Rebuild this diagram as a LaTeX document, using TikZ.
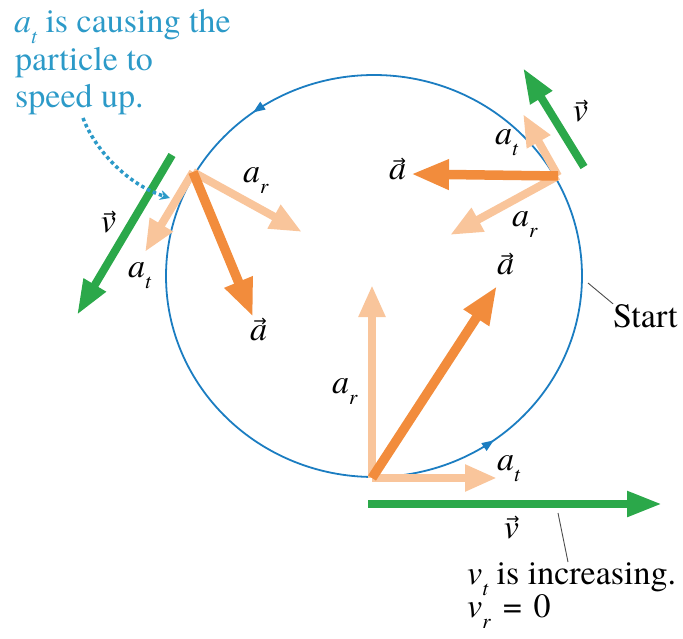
\documentclass[tikz,border=0pt]{standalone}
\usepackage{fontspec}
\setmainfont{texgyretermes}[Extension=.otf, UprightFont=*-regular, ItalicFont=*-italic, BoldFont=*-bold, BoldItalicFont=*-bolditalic]
\newfontfamily\symf{DejaVu Sans}
\usetikzlibrary{arrows.meta,decorations.markings}
\definecolor{vgreen}{HTML}{2BA84A}
\definecolor{aorange}{HTML}{F28C3C}
\definecolor{alight}{HTML}{F9C59B}
\definecolor{cblue}{HTML}{1B7DC1}
\definecolor{tblue}{HTML}{2C9AC8}
\newcommand\vecl[1]{\leavevmode\vbox{\offinterlineskip\halign{\hfil##\hfil\cr{\kern3pt\fontsize{16}{16}\selectfont\symf →}\cr\noalign{\kern-1pt}{\itshape #1}\cr}}}
\newcommand\sbs[1]{\raisebox{-11pt}{\fontsize{21}{21}\selectfont\itshape #1}}
\tikzset{
  lvec/.style={alight, line width=8pt, -{Triangle[length=32pt,width=25pt]}},
  ovec/.style={aorange, line width=9.5pt, -{Triangle[length=38pt,width=28pt]}},
  gvec/.style={vgreen, line width=8pt, -{Triangle[length=35pt,width=24pt]}},
  lbl/.style={anchor=base west, inner sep=0pt},
  lead/.style={draw=black!70, line width=0.9pt},
  circ/.style={draw=cblue, line width=1.8pt, decoration={markings,
     mark=at position 0.35 with {\arrow{Triangle[length=12pt,width=9pt]}},
     mark=at position 0.849 with {\arrow{Triangle[length=12pt,width=9pt]}}},
     postaction={decorate}},
  dotarr/.style={tblue, line width=3.5pt, dash pattern=on 3.5pt off 3pt, -{Stealth[length=10pt,width=10pt]}}
}
\begin{document}
\begin{tikzpicture}[x=1pt,y=-1pt,font=\fontsize{34}{40}\selectfont]
\useasboundingbox (0,0) rectangle (683,639);
% circle
\draw[circ] (582,276) arc[start angle=360, end angle=0, x radius=208, y radius=201];
% Start marker
\node[lbl] (start) at (613,327) {Start};
\coordinate (s1) at (588,283);
\draw[lead] (s1) -- (start.north west);
% points
\coordinate (P) at (372,478);
\coordinate (Q) at (558,176);
\coordinate (R) at (193,172);
% tips
\coordinate (PaR) at (372,285);
\coordinate (PaT) at (497,478);
\coordinate (Pa) at (497,286);
\coordinate (QaT) at (523,114);
\coordinate (QaR) at (450,235);
\coordinate (Qa) at (411,174);
\coordinate (RaT) at (145,252);
\coordinate (RaR) at (302,232);
\coordinate (Ra) at (253,317);
% green
\coordinate (Pv0) at (368,504); \coordinate (Pv1) at (662,504);
\coordinate (Qv0) at (584,167); \coordinate (Qv1) at (523,68);
\coordinate (Rv0) at (172,155); \coordinate (Rv1) at (77,315);
% light components
\draw[lvec] (P) -- (PaR);
\draw[lvec] (P) -- (PaT);
\draw[lvec] (Q) -- (QaT);
\draw[lvec] (Q) -- (QaR);
\draw[lvec] (R) -- (RaT);
\draw[lvec] (R) -- (RaR);
% total acceleration
\draw[ovec] (P) -- (Pa);
\draw[ovec] (Q) -- (Qa);
\draw[ovec] (R) -- (Ra);
% velocities
\draw[gvec] (Pv0) -- (Pv1);
\draw[gvec] (Qv0) -- (Qv1);
\draw[gvec] (Rv0) -- (Rv1);
% labels bottom
\node[lbl] (aP) at (497,275) {\vecl{a}};
\node[lbl] (arP) at (332,393) {\itshape a\sbs{r}};
\node[lbl] (atP) at (497,470) {\itshape a\sbs{t}};
\node[lbl] (vP) at (503,538) {\vecl{v}};
% labels top right
\node[lbl] (aQ) at (389,180) {\vecl{a}};
\node[lbl] (atQ) at (495,145) {\itshape a\sbs{t}};
\node[lbl] (arQ) at (512,227) {\itshape a\sbs{r}};
\node[lbl] (vQ) at (572,122) {\vecl{v}};
% labels left
\node[lbl] (arR) at (243,183) {\itshape a\sbs{r}};
\node[lbl] (atR) at (128,278) {\itshape a\sbs{t}};
\node[lbl] (aR) at (250,340) {\vecl{a}};
\node[lbl] (vR) at (100,233) {\vecl{v}};
% note top left
\node[lbl, text=tblue] (n1) at (14,33) {{\itshape a}\sbs{t} is causing the};
\node[lbl, text=tblue] (n2) at (15,70.5) {particle to};
\node[lbl, text=tblue] (n3) at (15,108) {speed up.};
\coordinate (d1) at (83,118);
\coordinate (d2) at (170,198);
\draw[dotarr] (d1) .. controls (95,150) and (128,185) .. (d2);
% bottom text
\node[lbl] (inc) at (467,584) {{\itshape v}\sbs{t} is increasing.};
\node[lbl] (vr) at (467,617) {{\itshape v}\sbs{r}\hspace{4pt} = \hspace{3pt}0};
\coordinate (g1) at (558,513);
\coordinate (g2) at (568,562);
\draw[lead] (g1) -- (g2);
\end{tikzpicture}
\end{document}
